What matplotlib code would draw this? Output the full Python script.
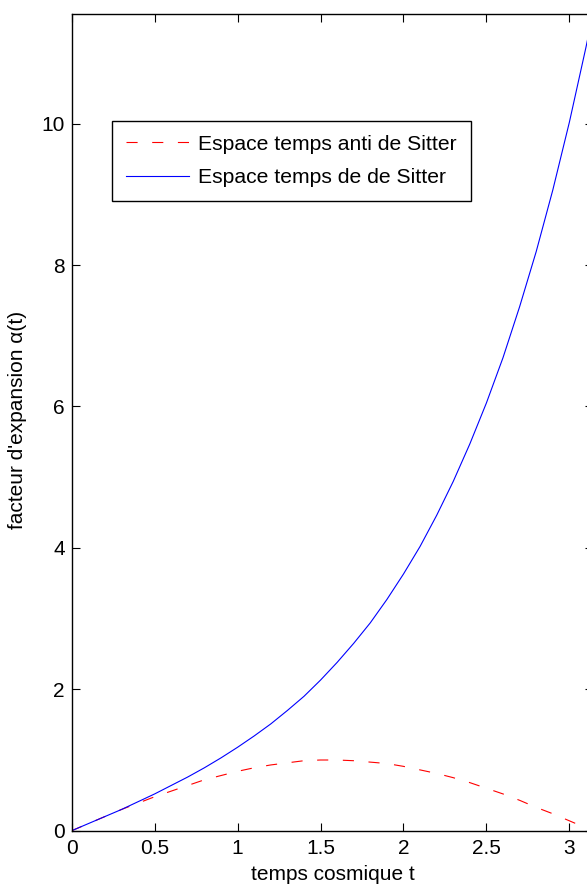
import numpy as np
import matplotlib
matplotlib.use("Agg")
from matplotlib import pyplot as plt

# temps cosmique t
t = [0.0, 0.1, 0.2, 0.3, 0.4, 0.5, 0.6, 0.7, 0.8, 0.9, 1.0, 1.1, 1.2, 1.3, 1.4, 1.5,
     1.6, 1.7, 1.8, 1.9, 2.0, 2.1, 2.2, 2.3, 2.4, 2.5, 2.6, 2.7, 2.8, 2.9, 3.0, 3.1, 3.1416]
# espace temps anti de Sitter (pointille rouge)
a_anti = [0.00, 0.10, 0.20, 0.30, 0.39, 0.48, 0.56, 0.64, 0.72, 0.78, 0.84, 0.89, 0.93,
          0.96, 0.99, 1.00, 1.00, 0.99, 0.97, 0.95, 0.91, 0.86, 0.81, 0.75, 0.68, 0.60,
          0.52, 0.43, 0.33, 0.24, 0.14, 0.04, 0.00]
# espace temps de de Sitter (trait bleu)
a_ds = [0.00, 0.10, 0.20, 0.30, 0.41, 0.52, 0.64, 0.76, 0.89, 1.03, 1.18, 1.34, 1.51,
        1.70, 1.90, 2.13, 2.38, 2.65, 2.94, 3.27, 3.63, 4.02, 4.46, 4.94, 5.47, 6.05,
        6.69, 7.41, 8.19, 9.06, 10.02, 11.08, 11.55]

xticks = [0, 0.5, 1, 1.5, 2, 2.5, 3]
xticklabels = ["0", "0.5", "1", "1.5", "2", "2.5", "3"]
yticks = [0, 2, 4, 6, 8, 10]

plt.rcParams['font.family'] = ['Liberation Sans', 'DejaVu Sans']
plt.rcParams['lines.scale_dashes'] = False

fig = plt.figure(figsize=(5.87, 8.86), dpi=100)
ax = fig.add_axes([0.1221, 0.0624, 0.8879, 0.9218])

ax.plot(t, a_anti, color='red', lw=0.8, dashes=(8, 10.5), label='Espace temps anti de Sitter')
ax.plot(t, a_ds, color='blue', lw=0.8, label='Espace temps de de Sitter')

ax.set_xlim(0, np.pi)
ax.set_ylim(0, 11.55)
ax.set_xticks(xticks)
ax.set_xticklabels(xticklabels)
ax.set_yticks(yticks)
ax.tick_params(direction='in', length=6, width=0.8, labelsize=15, top=True, right=True)
ax.tick_params(axis='x', pad=6)
ax.tick_params(axis='y', pad=5)
for s in ax.spines.values():
    s.set_linewidth(1.0)

fig.text(333 / 587, 1 - 875 / 886, "temps cosmique t", fontsize=15, ha='center', va='center')
fig.text(18 / 587, 1 - 420 / 886, "facteur d'expansion α(t)", fontsize=15,
         ha='center', va='center', rotation=90)

leg = ax.legend(loc='upper left', bbox_to_anchor=(0.077, 0.869), borderaxespad=0,
                fontsize=15.2, fancybox=False, edgecolor='black', framealpha=1,
                handlelength=3.0, handletextpad=0.45, borderpad=0.65, labelspacing=0.7)
leg.get_frame().set_linewidth(1.0)

fig.savefig("out.png", dpi=100)
